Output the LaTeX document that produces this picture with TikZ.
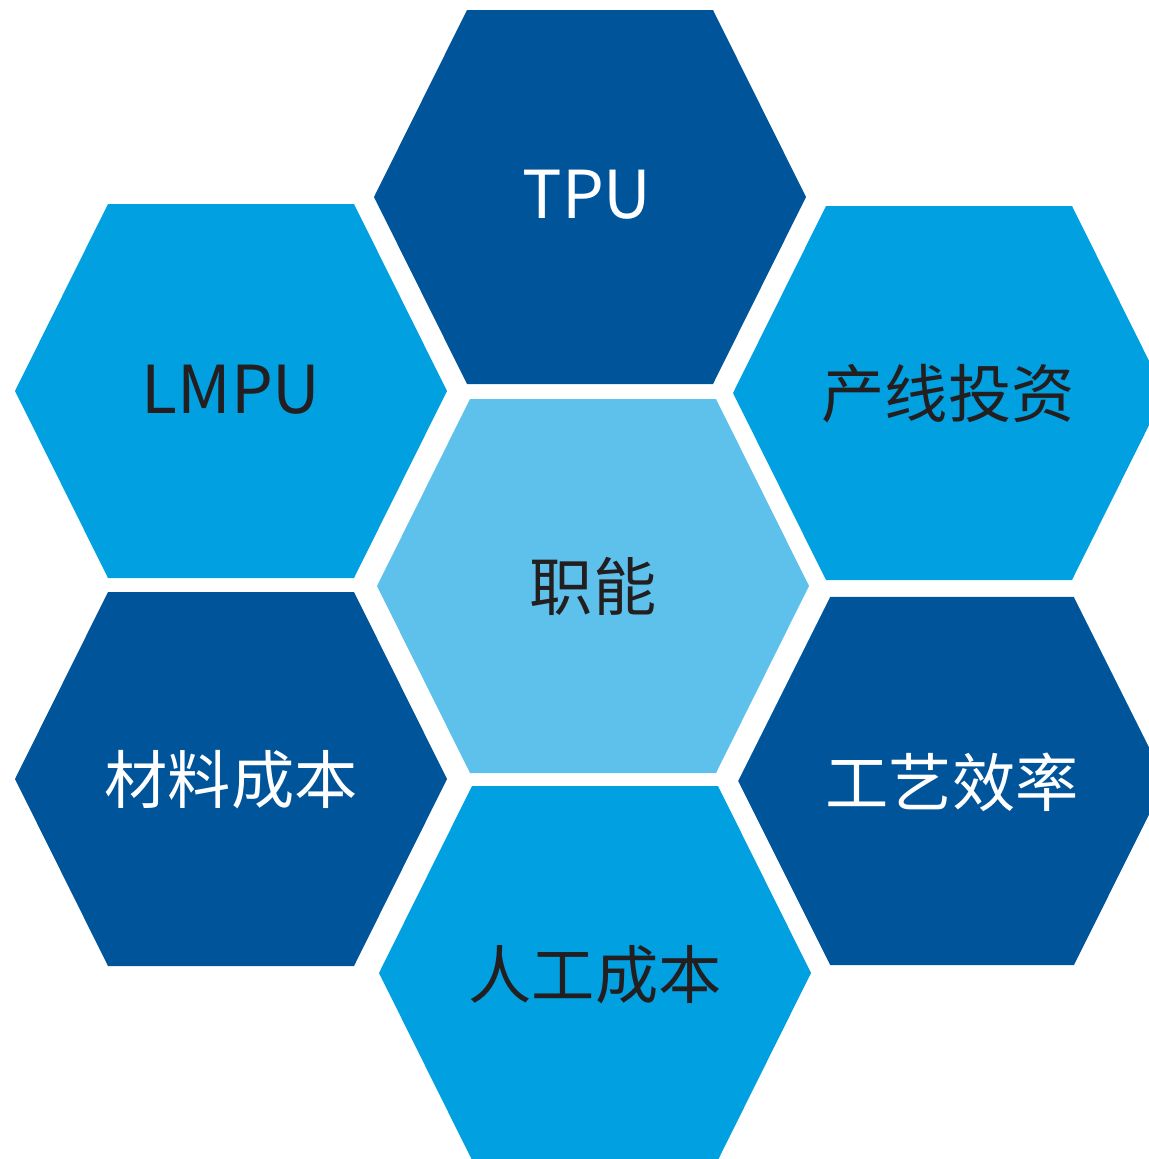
\documentclass[tikz,border=0pt]{standalone}
\usepackage{fontspec}
\setmainfont{Noto Sans CJK SC}
\definecolor{dkblue}{HTML}{00549A}
\definecolor{mdblue}{HTML}{00A0E1}
\definecolor{ltblue}{HTML}{5EC1EC}
\definecolor{txtdark}{HTML}{231F20}
\tikzset{
  hexa/.pic={\fill (-216,0) -- (-123,-187) -- (123,-187) -- (216,0) -- (123,187) -- (-123,187) -- cycle;},
  lat/.style={font=\fontsize{18.8}{22}\selectfont, inner sep=0pt},
  cjk/.style={font=\fontsize{18}{20}\selectfont, inner sep=0pt},
  wt/.style={text=white},
  dk/.style={text=txtdark}
}
\begin{document}
\begin{tikzpicture}[x=0.1mm,y=-0.1mm]
\useasboundingbox (0,0) rectangle (1149,1159);
\clip (0,0) rectangle (1149,1159);
\pic[fill=dkblue] at (590,197) {hexa};
\pic[fill=mdblue] at (231,391) {hexa};
\pic[fill=mdblue] at (949,393) {hexa};
\pic[fill=ltblue] at (593,586) {hexa};
\pic[fill=dkblue] at (231,779) {hexa};
\pic[fill=dkblue,yscale=0.985,xscale=0.99] at (952,781) {hexa};
\pic[fill=mdblue] at (595,973) {hexa};
\node[lat,wt] (tpu) at (587,195) {TPU};
\node[lat,dk] (lmpu) at (231,390) {LMPU};
\node[cjk,dk] (cxtz) at (948,394) {产线投资};
\node[cjk,dk] (zn) at (593,586) {职能};
\node[cjk,wt] (clcb) at (231,780) {材料成本};
\node[cjk,wt] (gyxl) at (952,782) {工艺效率};
\node[cjk,dk] (rgcb) at (595,975) {人工成本};
\end{tikzpicture}
\end{document}
